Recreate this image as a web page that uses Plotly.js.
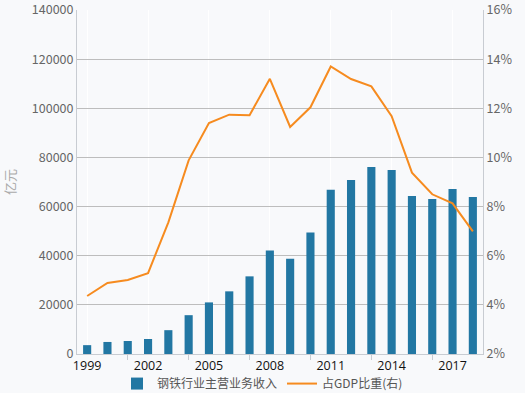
<!DOCTYPE html>
<html>
<head>
<meta charset="utf-8">
<script src="https://cdn.plot.ly/plotly-3.0.1.min.js"></script>
<style>html,body{margin:0;padding:0;background:#f8f9fb;}#chart{width:525px;height:393px;}</style>
</head>
<body>
<div id="chart"></div>
<script>
var years = ['1999','2000','2001','2002','2003','2004','2005','2006','2007','2008','2009','2010','2011','2012','2013','2014','2015','2016','2017','2018'];
var revenue = [3600,4900,5300,6100,9700,15800,21000,25500,31600,42100,38800,49400,66800,70800,76100,74900,64300,63100,67200,63900];
var gdpShare = [4.36,4.89,5.01,5.29,7.36,9.88,11.40,11.74,11.72,13.20,11.24,12.04,13.70,13.19,12.89,11.68,9.38,8.50,8.13,6.99];
var xLabels = ['1999','2002','2005','2008','2011','2014','2017'];
var xTickMarks = ['2001','2004','2007','2010','2013','2016'];
var seriesNames = ['钢铁行业主营业务收入','占GDP比重(右)'];

var font = 'Noto Sans CJK SC, Open Sans, sans-serif';
var traces = [
  {type:'bar', x:years, y:revenue, name:seriesNames[0], marker:{color:'#2277a3'}, xaxis:'x', yaxis:'y'},
  {type:'scatter', mode:'lines', x:years, y:gdpShare, name:seriesNames[1], line:{color:'#f68b1f', width:2}, xaxis:'x', yaxis:'y2'},
  {type:'scatter', mode:'lines', x:years, y:revenue.map(function(){return null;}), showlegend:false, hoverinfo:'skip', xaxis:'x2', yaxis:'y'}
];
var layout = {
  width:525, height:393,
  margin:{l:77, r:42, t:10, b:39, autoexpand:false},
  paper_bgcolor:'#f8f9fb', plot_bgcolor:'#f8f9fb',
  font:{family:font, size:12, color:'#666'},
  bargap:0.6,
  showlegend:true,
  legend:{orientation:'h', x:0.5, xref:'container', xanchor:'center', yref:'container', y:0.024, yanchor:'middle',
    bgcolor:'rgba(0,0,0,0)', borderwidth:0, font:{size:12, color:'#555'}, itemwidth:30},
  xaxis:{type:'category', categoryorder:'array', categoryarray:years, tickmode:'array', tickvals:xLabels, ticktext:xLabels,
    showgrid:true, gridcolor:'#ffffff', gridwidth:1, ticks:'', tickfont:{family:'Open Sans, sans-serif', size:12.5, color:'#111'}, ticklabeloverflow:'allow',
    showline:true, linecolor:'#c8ccd2', linewidth:1, mirror:false, zeroline:false, range:[-0.5,19.5]},
  xaxis2:{type:'category', categoryorder:'array', categoryarray:years, overlaying:'x', matches:'x', tickmode:'array', tickvals:xTickMarks,
    showticklabels:false, ticks:'outside', ticklen:5, tickcolor:'#c8ccd2', showgrid:false, showline:false, zeroline:false, side:'bottom', range:[-0.5,19.5]},
  yaxis:{range:[0,140000], dtick:20000, tickformat:'d', showgrid:true, gridcolor:'#bdbdbd', gridwidth:1, zeroline:false,
    showline:true, linecolor:'#c8ccd2', ticks:'', ticklen:0, tickfont:{size:12.5, color:'#666'}, ticklabeloverflow:'allow',
    title:{text:'亿元', font:{size:13, color:'#aaa'}, standoff:18}},
  yaxis2:{range:[2,16], dtick:2, ticksuffix:'%', overlaying:'y', side:'right', showgrid:false, zeroline:false,
    showline:true, linecolor:'#c8ccd2', ticks:'', tickfont:{size:12.5, color:'#666'}, ticklabeloverflow:'allow'}
};
Plotly.newPlot('chart', traces, layout, {displayModeBar:false, staticPlot:true});
</script>
</body>
</html>
